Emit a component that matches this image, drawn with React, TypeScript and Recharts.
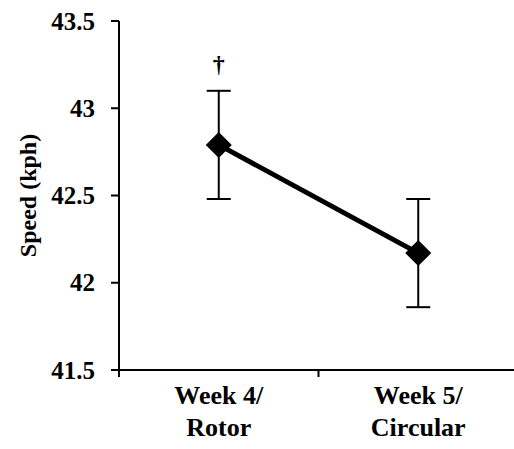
import React from 'react';
import { ComposedChart, Line, XAxis, YAxis, ErrorBar, LabelList } from 'recharts';

const labelLine1 = ['Week 4/', 'Week 5/'];
const labelLine2 = ['Rotor', 'Circular'];
const xPos = [0.5, 1.5];
const speed = [42.79, 42.17];
const sem = [0.31, 0.31];
const marks = ['†', ''];
const yTicks = [41.5, 42, 42.5, 43, 43.5];
const xTicks = [0, 0.5, 1, 1.5, 2];

const data = xPos.map((x, i) => ({ x, speed: speed[i], err: sem[i], mark: marks[i] }));

const FONT = 'Liberation Serif';

const Diamond = (props: any) => {
  const { cx, cy } = props;
  if (cx == null || cy == null) return null;
  const r = 13;
  return <polygon points={`${cx},${cy - r} ${cx + r},${cy} ${cx},${cy + r} ${cx - r},${cy}`} fill="#000" />;
};

const XTick = (props: any) => {
  const { x, y, payload } = props;
  const v = payload.value;
  if (Number.isInteger(v)) {
    return <line x1={x} x2={x} y1={y} y2={y + 7} stroke="#000" strokeWidth={2} />;
  }
  const i = xPos.indexOf(v);
  return (
    <text x={x} y={y} textAnchor="middle" fontFamily={FONT} fontWeight="bold" fontSize={26} fill="#000">
      <tspan x={x} dy={34}>{labelLine1[i]}</tspan>
      <tspan x={x} dy={32}>{labelLine2[i]}</tspan>
    </text>
  );
};

const YTick = (props: any) => {
  const { x, y, payload } = props;
  return (
    <text x={x} y={y} textAnchor="end" dominantBaseline="central" fontFamily={FONT} fontWeight="bold" fontSize={25} fill="#000">
      {payload.value}
    </text>
  );
};

const MarkLabel = (props: any) => {
  const { x, y, value } = props;
  if (!value) return null;
  return (
    <text x={x} y={y - 73} textAnchor="middle" fontFamily={FONT} fontWeight="bold" fontSize={24} fill="#000">
      {value}
    </text>
  );
};

const YLabel = (props: any) => {
  const { viewBox } = props;
  const cy = viewBox.y + viewBox.height / 2;
  const cx = 28;
  return (
    <text x={cx} y={cy} transform={`rotate(-90, ${cx}, ${cy})`} textAnchor="middle" dominantBaseline="central"
      fontFamily={FONT} fontWeight="bold" fontSize={24} fill="#000">
      Speed (kph)
    </text>
  );
};

export default function App() {
  return (
    <div style={{ position: 'absolute', left: 0, top: 0, background: '#fff' }}>
      <ComposedChart width={514} height={449} data={data} margin={{ top: 21, right: -4, bottom: 0, left: 0 }}>
        <XAxis
          dataKey="x"
          type="number"
          domain={[0, 2]}
          ticks={xTicks}
          interval={0}
          axisLine={{ stroke: '#000', strokeWidth: 2 }}
          tickLine={false}
          tickSize={0}
          tickMargin={0}
          height={79}
          tick={<XTick />}
        />
        <YAxis
          type="number"
          domain={[41.5, 43.5]}
          ticks={yTicks}
          interval={0}
          width={119}
          axisLine={{ stroke: '#000', strokeWidth: 2 }}
          tickLine={{ stroke: '#000', strokeWidth: 2 }}
          tickSize={8}
          tickMargin={16}
          tick={<YTick />}
          label={<YLabel />}
        />
        <Line
          dataKey="speed"
          stroke="#000"
          strokeWidth={5}
          dot={<Diamond />}
          activeDot={false}
          isAnimationActive={false}
        >
          <ErrorBar dataKey="err" direction="y" width={12} stroke="#000" strokeWidth={2} />
          <LabelList dataKey="mark" content={<MarkLabel />} />
        </Line>
      </ComposedChart>
    </div>
  );
}
